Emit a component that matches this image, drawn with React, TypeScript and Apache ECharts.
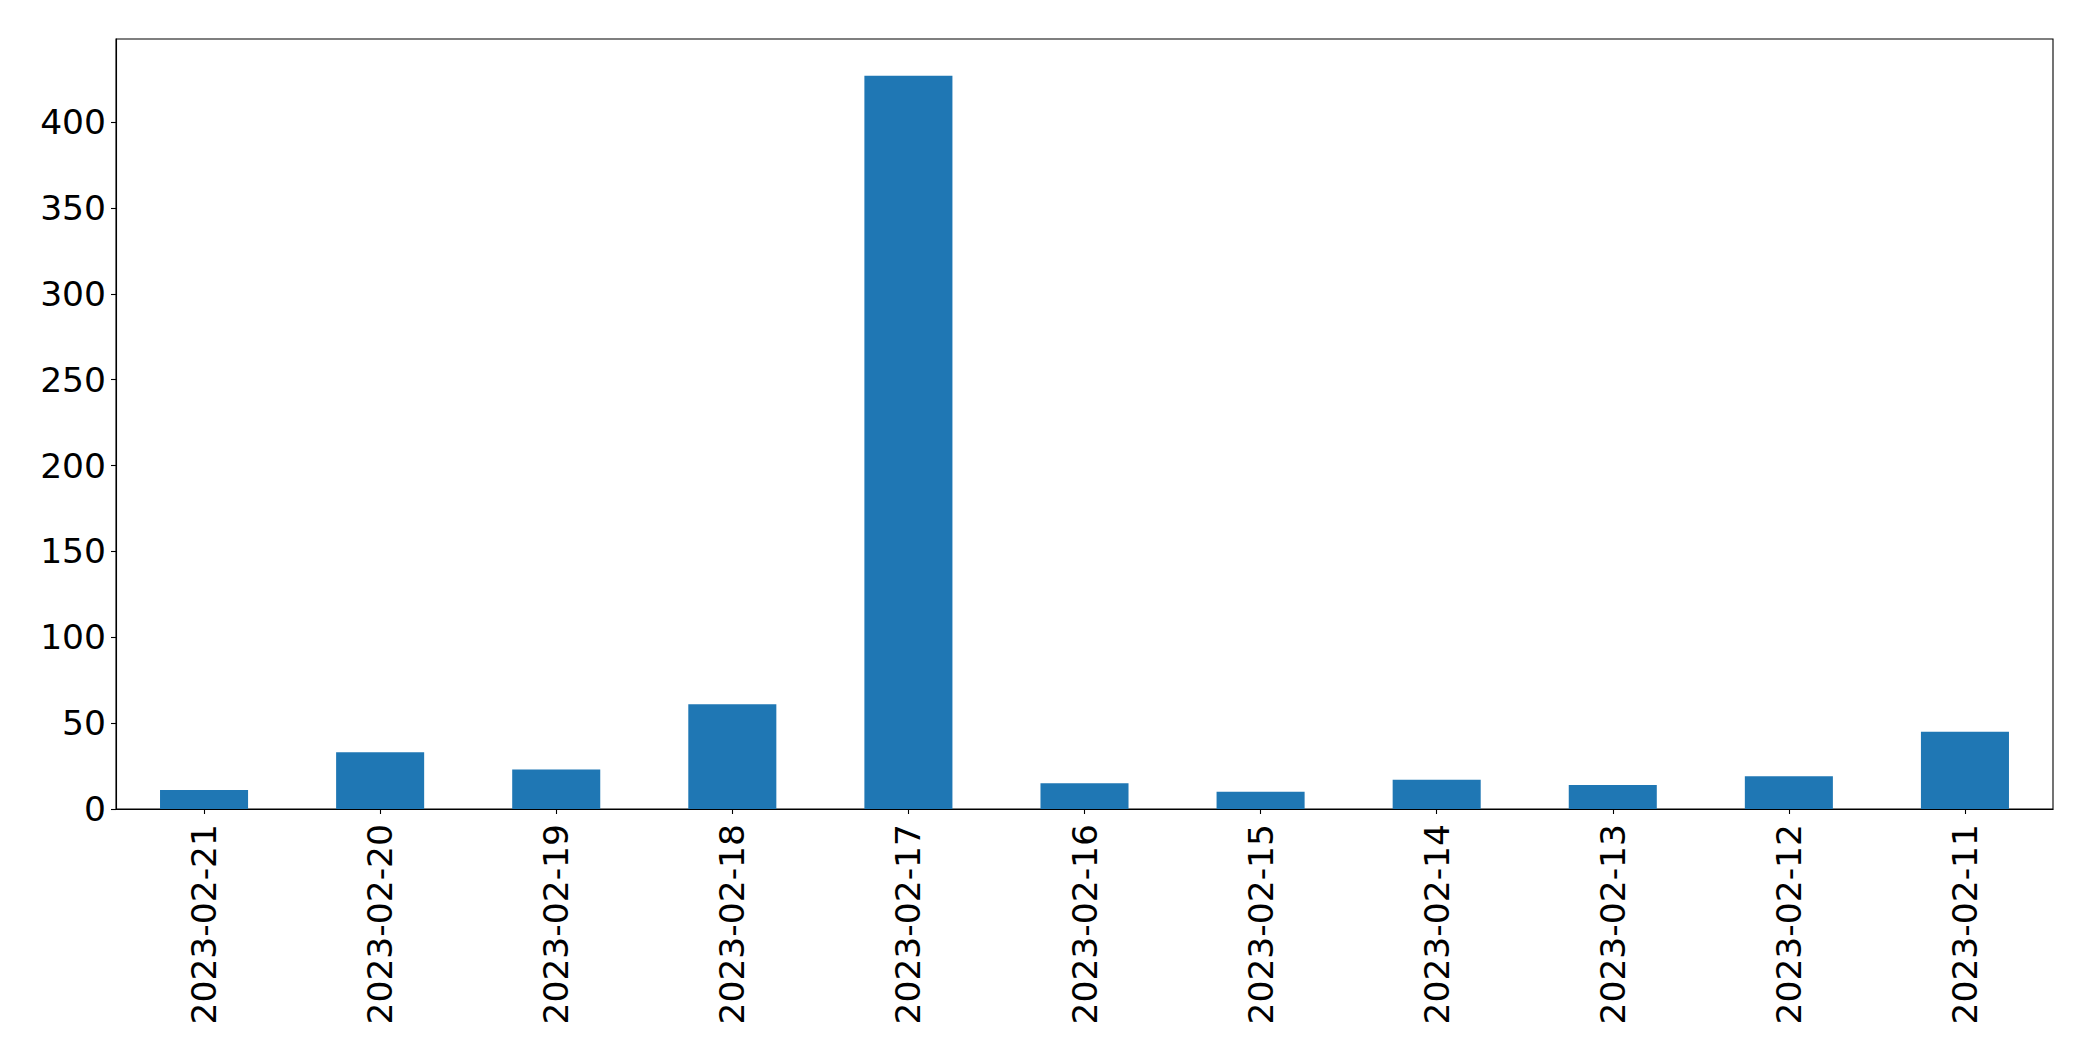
import React, { useEffect, useRef } from "react";
import * as echarts from "echarts";

const categories = [
  "2023-02-21",
  "2023-02-20",
  "2023-02-19",
  "2023-02-18",
  "2023-02-17",
  "2023-02-16",
  "2023-02-15",
  "2023-02-14",
  "2023-02-13",
  "2023-02-12",
  "2023-02-11",
];
const values = [11, 33, 23, 61, 427, 15, 10, 17, 14, 19, 45];
const yMax = 448.35;
const yInterval = 50;

export default function App() {
  const ref = useRef<HTMLDivElement>(null);
  useEffect(() => {
    if (!ref.current) return;
    const chart = echarts.init(ref.current, null, { renderer: "svg" });
    const font = "DejaVu Sans";
    chart.setOption({
      animation: false,
      backgroundColor: "#ffffff",
      grid: {
        left: 116,
        right: 40,
        top: 39,
        bottom: 252,
        show: true,
        borderColor: "#000000",
        borderWidth: 1.1,
        containLabel: false,
      },
      xAxis: {
        type: "category",
        data: categories,
        boundaryGap: true,
        axisLine: { show: true, lineStyle: { color: "#000000", width: 1.1 } },
        axisTick: {
          show: true,
          alignWithLabel: true,
          length: 5,
          lineStyle: { color: "#000000", width: 1.1 },
        },
        axisLabel: {
          rotate: 90,
          interval: 0,
          margin: 15,
          color: "#000000",
          fontFamily: font,
          fontSize: 34.5,
        },
        splitLine: { show: false },
      },
      yAxis: {
        type: "value",
        min: 0,
        max: yMax,
        interval: yInterval,
        axisLine: { show: true, lineStyle: { color: "#000000", width: 1.1 } },
        axisTick: {
          show: true,
          length: 5,
          lineStyle: { color: "#000000", width: 1.1 },
        },
        axisLabel: {
          showMaxLabel: false,
          margin: 10,
          color: "#000000",
          fontFamily: font,
          fontSize: 34.5,
          formatter: (v: number) => (v % yInterval === 0 ? String(v) : ""),
        },
        splitLine: { show: false },
      },
      series: [
        {
          type: "bar",
          data: values,
          barWidth: "50%",
          itemStyle: { color: "#1f77b4" },
        },
      ],
    });
    return () => chart.dispose();
  }, []);
  return (
    <div
      ref={ref}
      style={{ position: "fixed", left: 0, top: 0, width: 2093, height: 1061, background: "#fff" }}
    />
  );
}
